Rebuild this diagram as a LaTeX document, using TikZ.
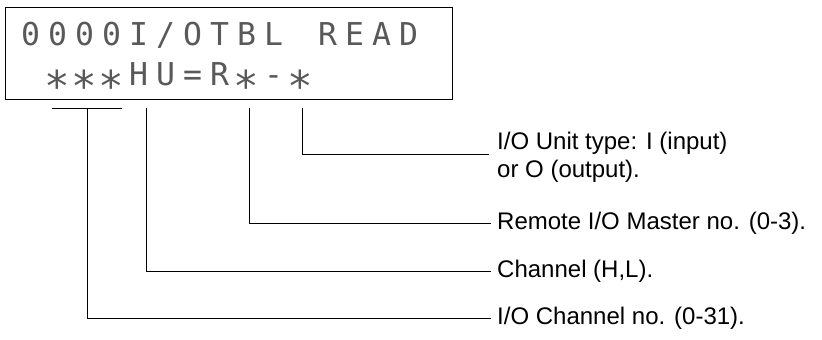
\documentclass[tikz,border=0pt]{standalone}
\usepackage{fontspec}
\setmainfont{Liberation Sans}
\newfontfamily\lcdfont{DejaVu Sans Mono}
\usetikzlibrary{calc}
\newcommand\lcdcell[1]{\makebox[27pt]{#1}}
\newcommand\lcdstar{\raisebox{-16pt}{\scalebox{1.35}{*}}}
\begin{document}
\begin{tikzpicture}[x=1pt,y=-1pt,
  lcdrow/.style={anchor=base west,inner sep=0pt,font=\lcdfont\fontsize{31.5}{32}\selectfont,text=black!65},
  lbl/.style={anchor=west,inner sep=0pt,font=\fontsize{24}{28}\selectfont,align=left},
  wire/.style={line width=1pt}]
\useasboundingbox (0,0) rectangle (822,340);
\node[draw,line width=1.2pt,anchor=north west,minimum width=447pt,minimum height=92pt,inner sep=0pt] (lcd) at (5,7) {};
\node[lcdrow] (row1) at (17,45) {\lcdcell{0}\lcdcell{0}\lcdcell{0}\lcdcell{0}\lcdcell{I}\lcdcell{/}\lcdcell{O}\lcdcell{T}\lcdcell{B}\lcdcell{L}\lcdcell{}\lcdcell{R}\lcdcell{E}\lcdcell{A}\lcdcell{D}};
\node[lcdrow] (row2) at (17,85) {\lcdcell{}\lcdcell{\lcdstar}\lcdcell{\lcdstar}\lcdcell{\lcdstar}\lcdcell{H}\lcdcell{U}\lcdcell{=}\lcdcell{R}\lcdcell{\lcdstar}\lcdcell{-}\lcdcell{\lcdstar}};
\coordinate (b1l) at (52,108);
\coordinate (b1r) at (122,108);
\coordinate (t1) at (87,108);
\coordinate (t2) at (146,108);
\coordinate (t3) at (249,108);
\coordinate (t4) at (302,108);
\node[lbl] (l4) at (497,157) {I/O Unit type: I (input)\\or O (output).};
\node[lbl] (l3) at (497,223) {Remote I/O Master no. (0-3).};
\node[lbl] (l2) at (497,271) {Channel (H,L).};
\node[lbl] (l1) at (497,318) {I/O Channel no. (0-31).};
\draw[wire] (b1l) -- (b1r);
\draw[wire] (t1) |- ([xshift=-6pt]l1.west);
\draw[wire] (t2) |- ([xshift=-6pt]l2.west);
\draw[wire] (t3) |- ([xshift=-6pt]l3.west);
\draw[wire] (t4) |- ([xshift=-8pt,yshift=3pt]l4.west);
\end{tikzpicture}
\end{document}
